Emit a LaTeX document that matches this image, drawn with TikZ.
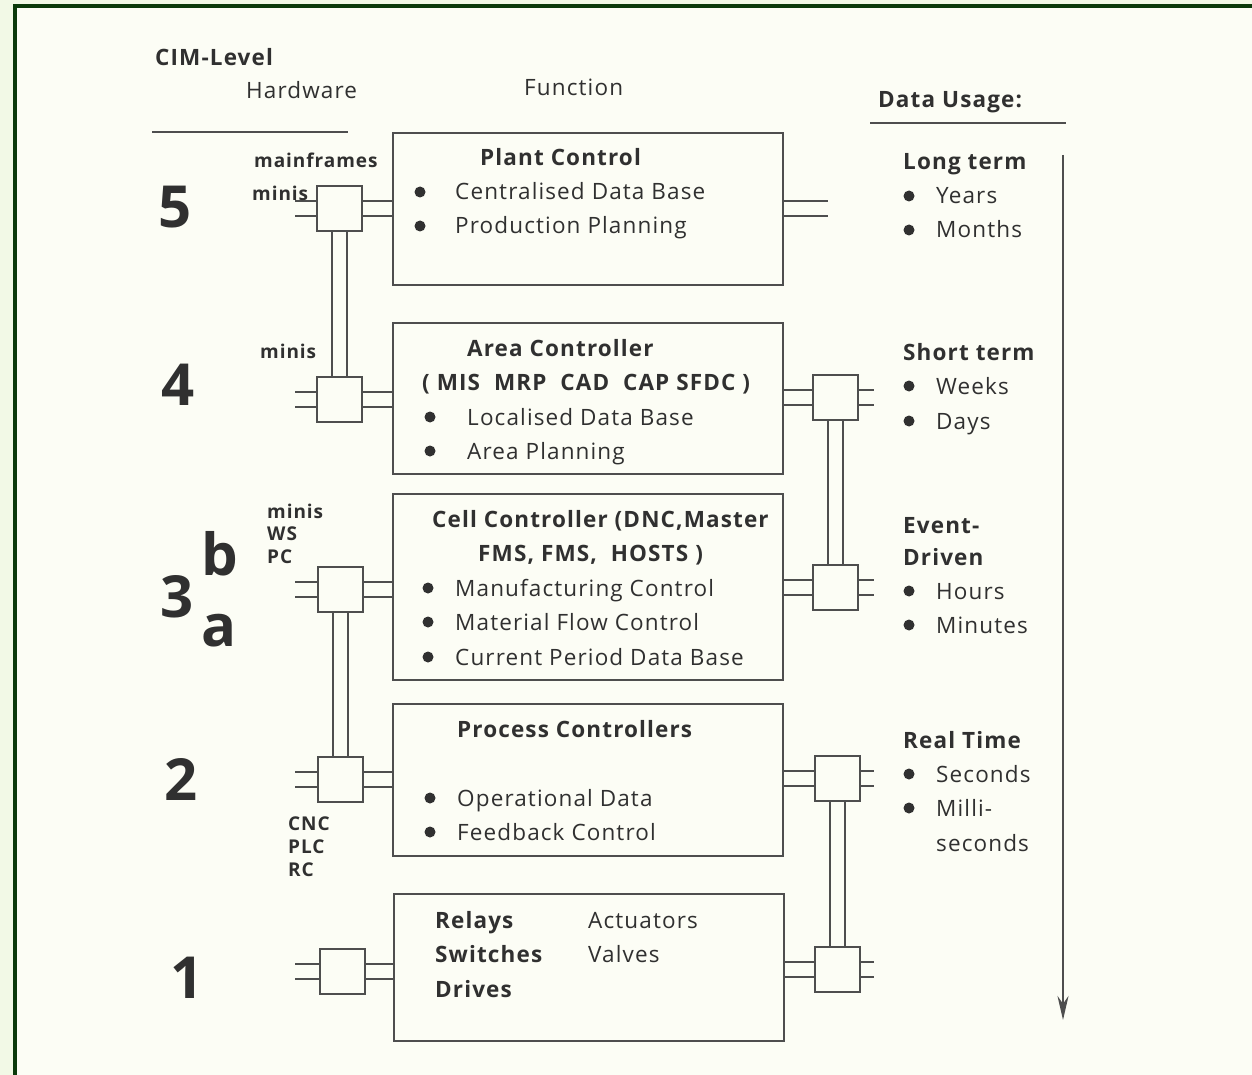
\documentclass[tikz,border=0pt]{standalone}
\usepackage{fontspec}
\setmainfont[LetterSpace=5]{Open Sans}
\usetikzlibrary{arrows.meta}
\definecolor{outbg}{HTML}{F2F9E6}
\definecolor{inbg}{HTML}{FCFDF5}
\definecolor{framec}{HTML}{0B3A0B}
\definecolor{ink}{HTML}{303030}
\definecolor{ln}{HTML}{4E4E4E}
\newcommand\hpair[2]{\draw[wire,transform canvas={yshift=7.5pt}] (#1) -- (#2);\draw[wire,transform canvas={yshift=-7.5pt}] (#1) -- (#2);}
\newcommand\vpair[2]{\draw[wire,transform canvas={xshift=7.5pt}] (#1) -- (#2);\draw[wire,transform canvas={xshift=-7.5pt}] (#1) -- (#2);}
\tikzset{
 tx/.style={font=\fontsize{22.5}{27}\selectfont, text=ink, inner sep=0, anchor=base west},
 tb/.style={tx, font=\fontsize{22.5}{27}\selectfont\bfseries},
 hw/.style={tx, font=\fontsize{19}{23}\selectfont\bfseries},
 big/.style={tx, font=\fontsize{58}{60}\selectfont\bfseries},
 bul/.style={circle, fill=ink, inner sep=0, minimum size=11},
 box/.style={draw=ln, line width=2, anchor=north west, inner sep=0},
 sq/.style={draw=ln, line width=2, fill=inbg, minimum size=45, inner sep=0},
 wire/.style={draw=ln, line width=2},
}
\begin{document}
\begin{tikzpicture}[x=1pt,y=-1pt]
\useasboundingbox (0,0) rectangle (1252,1075);
\clip (0,0) rectangle (1252,1075);
\fill[outbg] (0,0) rectangle (1252,1075);
\draw[fill=inbg, draw=framec, line width=4] (15,6.5) rectangle (1275,1095);

% headers
\node[tb] (cim) at (155,66) {CIM-Level};
\node[tx] (hwh) at (246,99) {Hardware};
\node[tx] (fnh) at (524,96) {Function};
\node[tb] (duh) at (878,108) {Data Usage:};
\coordinate (h0) at (152,132); \coordinate (h1) at (348,132);
\draw[wire] (h0) -- (h1);
\coordinate (d0) at (870,123); \coordinate (d1) at (1066,123);
\draw[wire] (d0) -- (d1);

% function boxes
\node[box, minimum width=390, minimum height=152] (B5) at (392,132) {};
\node[box, minimum width=390, minimum height=151] (B4) at (392,322) {};
\node[box, minimum width=390, minimum height=186] (B3) at (392,493) {};
\node[box, minimum width=390, minimum height=152] (B2) at (392,703) {};
\node[box, minimum width=390, minimum height=147] (B1) at (393,893) {};

% connector squares
\node[sq] (L5) at (339.5,209) {};
\node[sq] (L4) at (339.5,399) {};
\node[sq] (L3) at (340,589) {};
\node[sq] (L2) at (340,779.5) {};
\node[sq] (L1) at (342,971) {};
\node[sq] (R4) at (835.5,397.5) {};
\node[sq] (R3) at (835.5,587.5) {};
\node[sq] (R2) at (837,778) {};
\node[sq] (R1) at (837,969.5) {};

% free ends
\coordinate (ls) at (295,0);
\coordinate (rs) at (874,0);
\coordinate (p5r) at (828,208);

% horizontal pairs
\hpair{L5.west}{L5.west -| ls}
\hpair{L4.west}{L4.west -| ls}
\hpair{L3.west}{L3.west -| ls}
\hpair{L2.west}{L2.west -| ls}
\hpair{L1.west}{L1.west -| ls}
\hpair{L5.east}{L5.east -| B5.west}
\hpair{L4.east}{L4.east -| B4.west}
\hpair{L3.east}{L3.east -| B3.west}
\hpair{L2.east}{L2.east -| B2.west}
\hpair{L1.east}{L1.east -| B1.west}
\hpair{B5.east}{B5.east -| p5r}
\hpair{R4.west}{R4.west -| B4.east}
\hpair{R3.west}{R3.west -| B3.east}
\hpair{R2.west}{R2.west -| B2.east}
\hpair{R1.west}{R1.west -| B1.east}
\hpair{R4.east}{R4.east -| rs}
\hpair{R3.east}{R3.east -| rs}
\hpair{R2.east}{R2.east -| rs}
\hpair{R1.east}{R1.east -| rs}

% vertical pairs
\vpair{L5.south}{L4.north}
\vpair{L3.south}{L2.north}
\vpair{R4.south}{R3.north}
\vpair{R2.south}{R1.north}

% level numbers
\node[big] (n5) at (158,228) {5};
\node[big] (n4) at (161,405) {4};
\node[big] (n3) at (160,617) {3};
\node[big] (n3b) at (201,575) {b};
\node[big] (n3a) at (201,646) {a};
\node[big] (n2) at (164,800) {2};
\node[big] (n1) at (170,998) {1};

% hardware labels
\node[hw] (hw1) at (254,168) {mainframes};
\node[hw] (hw2) at (252,201) {minis};
\node[hw] (hw3) at (260,358) {minis};
\node[hw] (hw4) at (267,518) {minis};
\node[hw] (hw5) at (267,540) {WS};
\node[hw] (hw6) at (267,563) {PC};
\node[hw] (hw7) at (288,830) {CNC};
\node[hw] (hw8) at (288,853) {PLC};
\node[hw] (hw9) at (288,876) {RC};

% box 5
\node[tb] (t51) at (480,166) {Plant Control};
\node[bul] (b51) at (420,192) {};
\node[bul] (b52) at (420,226) {};
\node[tx] (t52) at (455,200) {Centralised Data Base};
\node[tx] (t53) at (455,234) {Production Planning};

% box 4
\node[tb] (t41) at (467,356) {Area Controller};
\node[tb] (t42) at (422,390) {( MIS\ \ MRP\ \ CAD\ \ CAP SFDC )};
\node[bul] (b41) at (430,417) {};
\node[bul] (b42) at (430,451) {};
\node[tx] (t43) at (467,425) {Localised Data Base};
\node[tx] (t44) at (467,459) {Area Planning};

% box 3
\node[tb] (t31) at (432,527) {Cell Controller (DNC,Master};
\node[tb] (t32) at (478,561) {FMS, FMS,\ \ HOSTS )};
\node[bul] (b31) at (428,588) {};
\node[bul] (b32) at (428,622) {};
\node[bul] (b33) at (428,657) {};
\node[tx] (t33) at (455,596) {Manufacturing Control};
\node[tx] (t34) at (455,630) {Material Flow Control};
\node[tx] (t35) at (455,665) {Current Period Data Base};

% box 2
\node[tb] (t21) at (457,737) {Process Controllers};
\node[bul] (b21) at (430,798) {};
\node[bul] (b22) at (430,832) {};
\node[tx] (t22) at (457,806) {Operational Data};
\node[tx] (t23) at (457,840) {Feedback Control};

% box 1
\node[tb] (t11) at (435,928) {Relays};
\node[tb] (t12) at (435,962) {Switches};
\node[tb] (t13) at (435,997) {Drives};
\node[tx] (t14) at (588,928) {Actuators};
\node[tx] (t15) at (588,962) {Valves};

% data usage
\node[tb] (u51) at (903,170) {Long term};
\node[bul] (ub51) at (909,196) {};
\node[bul] (ub52) at (909,230) {};
\node[tx] (u52) at (936,204) {Years};
\node[tx] (u53) at (936,238) {Months};

\node[tb] (u41) at (903,360) {Short term};
\node[bul] (ub41) at (909,386) {};
\node[bul] (ub42) at (909,421) {};
\node[tx] (u42) at (936,394) {Weeks};
\node[tx] (u43) at (936,429) {Days};

\node[tb] (u31) at (903,533) {Event-};
\node[tb] (u32) at (903,565) {Driven};
\node[bul] (ub31) at (909,591) {};
\node[bul] (ub32) at (909,625) {};
\node[tx] (u33) at (936,599) {Hours};
\node[tx] (u34) at (936,633) {Minutes};

\node[tb] (u21) at (903,748) {Real Time};
\node[bul] (ub21) at (909,774) {};
\node[bul] (ub22) at (909,808) {};
\node[tx] (u22) at (936,782) {Seconds};
\node[tx] (u23) at (936,816) {Milli-};
\node[tx] (u24) at (936,851) {seconds};

% time arrow
\coordinate (a0) at (1063,155);
\coordinate (a1) at (1063,1020);
\draw[draw=ln, line width=2.5, -{Stealth[length=24pt,width=11pt]}] (a0) -- (a1);
\end{tikzpicture}
\end{document}
